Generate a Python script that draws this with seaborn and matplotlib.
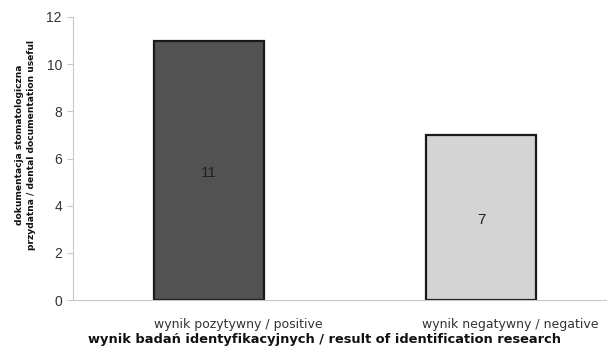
import matplotlib
matplotlib.use("Agg")
import matplotlib.pyplot as plt
import matplotlib.transforms as mtransforms
import seaborn as sns
import pandas as pd

categories = ["wynik pozytywny / positive", "wynik negatywny / negative"]
values = [11, 7]
bar_colors = ["#525252", "#d4d4d4"]
y_ticks = [0, 2, 4, 6, 8, 10, 12]

sns.set_theme(style="white")
plt.rcParams["font.family"] = ["DejaVu Sans"]

df = pd.DataFrame({"wynik": categories, "liczba": values})

fig = plt.figure(figsize=(6.07, 3.55), dpi=100)
ax = fig.add_axes([73 / 607, 1 - 300 / 355, 544 / 607, 283 / 355])

sns.barplot(data=df, x="wynik", y="liczba", hue="wynik", palette=bar_colors,
            legend=False, width=0.405, edgecolor="#1a1a1a", linewidth=1.6,
            saturation=1, ax=ax)

# value labels in the middle of each bar
for i, v in enumerate(values):
    ax.annotate(str(v), (i, v / 2), xytext=(0, -2), textcoords="offset points",
                ha="center", va="center", fontsize=11, color="#222222",
                family="Liberation Sans")

ax.set_xlim(-0.5, 1.5)
ax.set_ylim(0, 12)
ax.set_yticks(y_ticks)
ax.set_yticklabels([str(t) for t in y_ticks], fontsize=10, color="#333333",
                   family="Liberation Sans")
ax.set_xticks([0.5], minor=True)
ax.set_xticks([0, 1])
ax.set_xticklabels(categories, fontsize=9, color="#333333")
ax.tick_params(axis="x", which="major", length=0, pad=13)
ax.tick_params(axis="x", which="minor", length=4, color="#c8c8c8", width=0.8,
               direction="out")
ax.tick_params(axis="y", length=4, color="#c8c8c8", width=0.8, direction="out",
               pad=4, left=True)

# category labels sit a little to the right of the bar centres
shift = mtransforms.ScaledTranslation(0.29, 0, fig.dpi_scale_trans)
for lbl in ax.get_xticklabels():
    lbl.set_transform(lbl.get_transform() + shift)

for side in ["top", "right"]:
    ax.spines[side].set_visible(False)
for side in ["left", "bottom"]:
    ax.spines[side].set_color("#c8c8c8")
    ax.spines[side].set_linewidth(0.8)

ax.set_xlabel("wynik badań identyfikacyjnych / result of identification research",
              fontsize=9.4, fontweight="bold", color="#111111")
ax.xaxis.set_label_coords(0.463, -0.118)
ax.set_ylabel("dokumentacja stomatologiczna\nprzydatna / dental documentation useful",
              fontsize=6.6, fontweight="bold", color="#111111", linespacing=1.45)
ax.yaxis.set_label_coords(-0.068, 0.548)

fig.savefig("out.png", dpi=100)
